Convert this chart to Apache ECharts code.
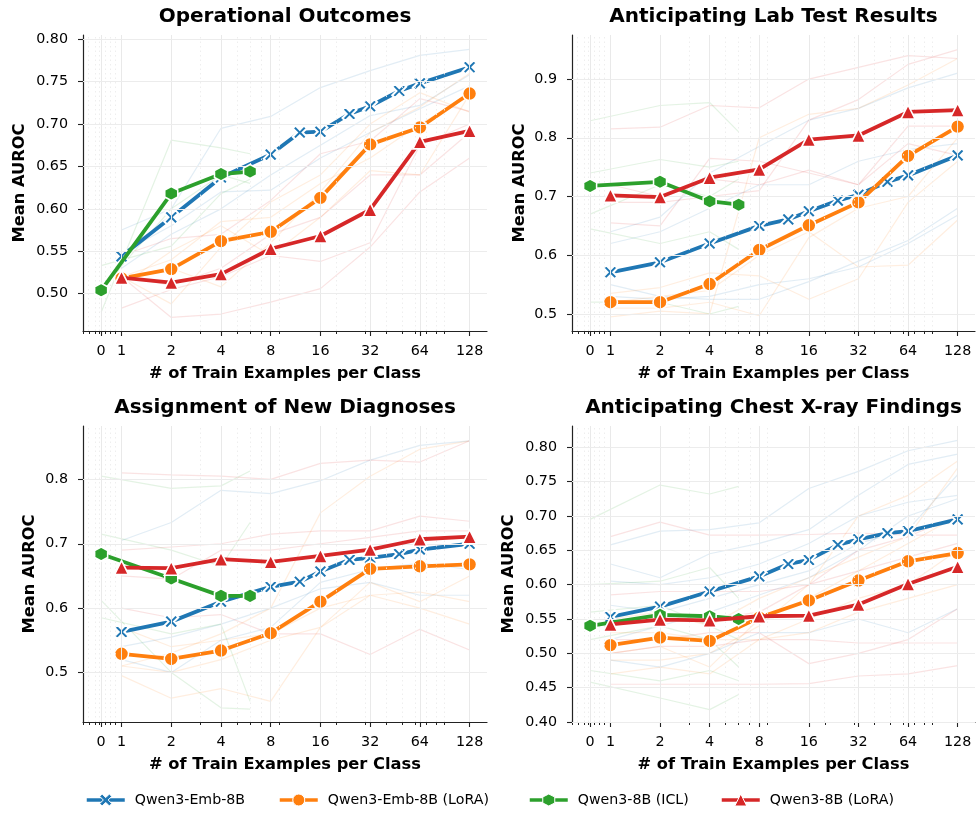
<!DOCTYPE html>
<html>
<head>
<meta charset="utf-8">
<script src="https://cdn.jsdelivr.net/npm/echarts@6/dist/echarts.min.js"></script>
<style>
html, body { margin: 0; padding: 0; background: #fff; }
#chart { width: 978px; height: 816px; }
</style>
</head>
<body>
<div id="chart"></div>
<script>
// ---- shot counts (x) ----
const tickShots = [0, 1, 2, 4, 8, 16, 32, 64, 128];
const minorShots = [-0.88, -0.6, -0.3, -0.1, 0.2, 0.45, 0.7, 3, 5, 6, 7, 9, 20, 30, 40, 50, 60, 70, 80, 90];
const embShots = [1, 2, 4, 8, 12, 16, 24, 32, 48, 64, 128];
const loraShots = [1, 2, 4, 8, 16, 32, 64, 128];
const iclShots = [0, 2, 4, 6];

const panelTitles = ['Operational Outcomes', 'Anticipating Lab Test Results',
  'Assignment of New Diagnoses', 'Anticipating Chest X-ray Findings'];
const seriesNames = ['Qwen3-Emb-8B', 'Qwen3-Emb-8B (LoRA)', 'Qwen3-8B (ICL)', 'Qwen3-8B (LoRA)'];

// ---- y tick labels per panel ----
const opsTicks = [0.50, 0.55, 0.60, 0.65, 0.70, 0.75, 0.80];
const labTicks = [0.5, 0.6, 0.7, 0.8, 0.9];
const dxTicks = [0.5, 0.6, 0.7, 0.8];
const cxrTicks = [0.40, 0.45, 0.50, 0.55, 0.60, 0.65, 0.70, 0.75, 0.80];

// ---- mean AUROC: Operational Outcomes ----
const opsEmb = [0.544, 0.590, 0.637, 0.664, 0.690, 0.691, 0.712, 0.721, 0.739, 0.748, 0.767];
const opsEmbLora = [0.518, 0.529, 0.562, 0.573, 0.613, 0.676, 0.696, 0.736];
const opsIcl = [0.504, 0.618, 0.641, 0.644];
const opsLora = [0.519, 0.513, 0.523, 0.553, 0.568, 0.599, 0.679, 0.692];

// ---- mean AUROC: Lab Test Results ----
const labEmb = [0.571, 0.588, 0.620, 0.650, 0.661, 0.675, 0.693, 0.703, 0.725, 0.736, 0.770];
const labEmbLora = [0.520, 0.520, 0.551, 0.609, 0.651, 0.690, 0.769, 0.819];
const labIcl = [0.718, 0.725, 0.692, 0.686];
const labLora = [0.702, 0.699, 0.732, 0.746, 0.797, 0.804, 0.844, 0.847];

// ---- mean AUROC: New Diagnoses ----
const dxEmb = [0.563, 0.579, 0.610, 0.633, 0.641, 0.657, 0.675, 0.678, 0.684, 0.691, 0.700];
const dxEmbLora = [0.529, 0.521, 0.534, 0.561, 0.610, 0.661, 0.665, 0.668];
const dxIcl = [0.684, 0.646, 0.619, 0.619];
const dxLora = [0.663, 0.662, 0.676, 0.672, 0.681, 0.691, 0.707, 0.711];

// ---- mean AUROC: Chest X-ray Findings ----
const cxrEmb = [0.553, 0.568, 0.590, 0.612, 0.630, 0.636, 0.658, 0.666, 0.675, 0.678, 0.695];
const cxrEmbLora = [0.512, 0.523, 0.518, 0.552, 0.577, 0.606, 0.634, 0.646];
const cxrIcl = [0.540, 0.556, 0.554, 0.550];
const cxrLora = [0.542, 0.549, 0.548, 0.554, 0.555, 0.571, 0.601, 0.626];

// ---- individual tasks (faint), Emb / LoRA at loraShots, ICL at iclShots ----
const opsTaskEmb = [
  [0.575, 0.600, 0.695, 0.709, 0.743, 0.763, 0.781, 0.788],
  [0.548, 0.580, 0.620, 0.622, 0.660, 0.690, 0.718, 0.745],
  [0.530, 0.570, 0.600, 0.640, 0.675, 0.710, 0.722, 0.758]
];
const opsTaskEmbLora = [
  [0.520, 0.488, 0.555, 0.608, 0.640, 0.700, 0.737, 0.714],
  [0.510, 0.550, 0.580, 0.545, 0.590, 0.645, 0.640, 0.735],
  [0.520, 0.530, 0.508, 0.560, 0.620, 0.690, 0.720, 0.760],
  [0.520, 0.540, 0.585, 0.590, 0.630, 0.660, 0.700, 0.733]
];
const opsTaskIcl = [
  [0.478, 0.681, 0.672, 0.665],
  [0.533, 0.556, 0.618, 0.635],
  [0.505, 0.600, 0.640, 0.630]
];
const opsTaskLora = [
  [0.520, 0.472, 0.476, 0.490, 0.506, 0.555, 0.620, 0.660],
  [0.483, 0.505, 0.520, 0.545, 0.538, 0.560, 0.675, 0.700],
  [0.545, 0.565, 0.570, 0.610, 0.665, 0.680, 0.730, 0.715],
  [0.520, 0.510, 0.530, 0.570, 0.590, 0.640, 0.640, 0.690]
];

const labTaskEmb = [
  [0.640, 0.665, 0.740, 0.785, 0.830, 0.850, 0.885, 0.910],
  [0.620, 0.640, 0.680, 0.720, 0.720, 0.760, 0.780, 0.790],
  [0.550, 0.530, 0.525, 0.525, 0.555, 0.590, 0.625, 0.680],
  [0.530, 0.525, 0.530, 0.550, 0.560, 0.580, 0.620, 0.668]
];
const labTaskEmbLora = [
  [0.495, 0.505, 0.500, 0.800, 0.840, 0.850, 0.890, 0.935],
  [0.535, 0.545, 0.570, 0.565, 0.525, 0.560, 0.690, 0.760],
  [0.510, 0.510, 0.520, 0.497, 0.630, 0.680, 0.700, 0.800],
  [0.520, 0.530, 0.540, 0.600, 0.640, 0.580, 0.583, 0.660]
];
const labTaskIcl = [
  [0.829, 0.855, 0.860, 0.810],
  [0.740, 0.763, 0.750, 0.760],
  [0.670, 0.720, 0.700, 0.730],
  [0.645, 0.620, 0.640, 0.610],
  [0.520, 0.520, 0.500, 0.513]
];
const labTaskLora = [
  [0.815, 0.818, 0.855, 0.851, 0.900, 0.920, 0.940, 0.935],
  [0.655, 0.650, 0.765, 0.760, 0.740, 0.720, 0.790, 0.770],
  [0.690, 0.690, 0.700, 0.710, 0.830, 0.865, 0.925, 0.950],
  [0.720, 0.700, 0.730, 0.720, 0.745, 0.720, 0.820, 0.820]
];

const dxTaskEmb = [
  [0.705, 0.733, 0.783, 0.778, 0.798, 0.830, 0.853, 0.860],
  [0.540, 0.555, 0.575, 0.600, 0.630, 0.640, 0.620, 0.620],
  [0.520, 0.500, 0.550, 0.570, 0.640, 0.660, 0.670, 0.660]
];
const dxTaskEmbLora = [
  [0.510, 0.530, 0.560, 0.600, 0.748, 0.805, 0.847, 0.860],
  [0.495, 0.460, 0.475, 0.455, 0.570, 0.620, 0.600, 0.575],
  [0.510, 0.500, 0.520, 0.550, 0.570, 0.640, 0.610, 0.650],
  [0.570, 0.540, 0.550, 0.560, 0.600, 0.620, 0.625, 0.610]
];
const dxTaskIcl = [
  [0.805, 0.786, 0.790, 0.813],
  [0.715, 0.690, 0.665, 0.733],
  [0.612, 0.500, 0.445, 0.443],
  [0.585, 0.560, 0.575, 0.455]
];
const dxTaskLora = [
  [0.810, 0.807, 0.805, 0.800, 0.825, 0.830, 0.827, 0.860],
  [0.690, 0.695, 0.700, 0.715, 0.720, 0.720, 0.743, 0.735],
  [0.600, 0.585, 0.590, 0.560, 0.560, 0.528, 0.567, 0.535],
  [0.650, 0.645, 0.690, 0.690, 0.700, 0.710, 0.720, 0.720]
];

const cxrTaskEmb = [
  [0.658, 0.678, 0.680, 0.690, 0.740, 0.765, 0.795, 0.810],
  [0.630, 0.610, 0.645, 0.660, 0.680, 0.730, 0.775, 0.790],
  [0.605, 0.600, 0.610, 0.630, 0.660, 0.700, 0.720, 0.730],
  [0.520, 0.540, 0.560, 0.585, 0.610, 0.650, 0.700, 0.725],
  [0.490, 0.480, 0.500, 0.530, 0.530, 0.550, 0.530, 0.565],
  [0.570, 0.560, 0.580, 0.600, 0.620, 0.660, 0.680, 0.760]
];
const cxrTaskEmbLora = [
  [0.490, 0.490, 0.500, 0.540, 0.600, 0.700, 0.730, 0.780],
  [0.500, 0.510, 0.480, 0.550, 0.580, 0.620, 0.660, 0.700],
  [0.530, 0.530, 0.520, 0.520, 0.530, 0.560, 0.580, 0.600],
  [0.470, 0.480, 0.470, 0.520, 0.550, 0.580, 0.600, 0.650],
  [0.550, 0.560, 0.540, 0.580, 0.610, 0.640, 0.670, 0.770]
];
const cxrTaskIcl = [
  [0.695, 0.745, 0.732, 0.743],
  [0.600, 0.605, 0.625, 0.580],
  [0.560, 0.570, 0.540, 0.520],
  [0.475, 0.460, 0.475, 0.460],
  [0.458, 0.435, 0.418, 0.440],
  [0.520, 0.540, 0.520, 0.480]
];
const cxrTaskLora = [
  [0.670, 0.691, 0.672, 0.672, 0.673, 0.675, 0.672, 0.672],
  [0.455, 0.455, 0.455, 0.455, 0.456, 0.467, 0.470, 0.482],
  [0.585, 0.590, 0.590, 0.590, 0.600, 0.620, 0.640, 0.660],
  [0.520, 0.520, 0.530, 0.530, 0.485, 0.500, 0.520, 0.565],
  [0.550, 0.550, 0.550, 0.560, 0.600, 0.650, 0.670, 0.700],
  [0.500, 0.510, 0.510, 0.520, 0.520, 0.515, 0.515, 0.515]
];

// ---- panel assembly ----
const panels = [
  { title: panelTitles[0], yMin: 0.456, yMax: 0.805, ticks: opsTicks, digits: 2, nameGap: 55,
    main: [opsEmb, opsEmbLora, opsIcl, opsLora], tasks: [opsTaskEmb, opsTaskEmbLora, opsTaskIcl, opsTaskLora] },
  { title: panelTitles[1], yMin: 0.471, yMax: 0.975, ticks: labTicks, digits: 1, nameGap: 44,
    main: [labEmb, labEmbLora, labIcl, labLora], tasks: [labTaskEmb, labTaskEmbLora, labTaskIcl, labTaskLora] },
  { title: panelTitles[2], yMin: 0.423, yMax: 0.883, ticks: dxTicks, digits: 1, nameGap: 45,
    main: [dxEmb, dxEmbLora, dxIcl, dxLora], tasks: [dxTaskEmb, dxTaskEmbLora, dxTaskIcl, dxTaskLora] },
  { title: panelTitles[3], yMin: 0.400, yMax: 0.831, ticks: cxrTicks, digits: 2, nameGap: 55,
    main: [cxrEmb, cxrEmbLora, cxrIcl, cxrLora], tasks: [cxrTaskEmb, cxrTaskEmbLora, cxrTaskIcl, cxrTaskLora] }
];

const gridBoxes = [
  { left: 83, top: 35, width: 404, height: 296 },
  { left: 572, top: 35, width: 403, height: 296 },
  { left: 83, top: 426, width: 404, height: 296 },
  { left: 572, top: 426, width: 403, height: 296 }
];
const legendLefts = [85, 278, 528, 720];

const COLORS = ['#1f77b4', '#ff7f0e', '#2ca02c', '#d62728'];
const X_PATH = 'path://M0,2L2,0L5,3L8,0L10,2L7,5L10,8L8,10L5,7L2,10L0,8L3,5Z';
const HEX_PATH = 'path://M5,0L9.33,2.5L9.33,7.5L5,10L0.67,7.5L0.67,2.5Z';
const SYMBOLS = [X_PATH, 'circle', HEX_PATH, 'triangle'];
const SYMBOL_SIZES = [14, 14, [13, 14], 14];
const FONT = 'DejaVu Sans';

// symmetric-log style position: linear between 0 and 1, log2 above
const LIN = 0.41;
function sx(n) { return n >= 1 ? Math.log2(n) : -LIN * (1 - n); }
const X_MIN = -0.775, X_MAX = 7.35;

function shotLabel(v) {
  for (const s of tickShots) if (Math.abs(sx(s) - v) < 1e-6) return String(s);
  return '';
}

const grids = [], xAxes = [], yAxes = [], series = [], titles = [];

panels.forEach((p, i) => {
  const g = gridBoxes[i];
  grids.push({ left: g.left, top: g.top, width: g.width, height: g.height, containLabel: false });
  titles.push({
    text: p.title, left: g.left + g.width / 2, top: g.top - 28, textAlign: 'center', padding: 0,
    textStyle: { fontFamily: FONT, fontSize: 20, fontWeight: 'bold', color: '#000' }
  });

  // main x axis
  xAxes.push({
    type: 'value', gridIndex: i, min: X_MIN, max: X_MAX, position: 'bottom',
    name: '# of Train Examples per Class', nameLocation: 'middle', nameGap: 35,
    nameTextStyle: { fontFamily: FONT, fontSize: 16.3, fontWeight: 'bold', color: '#000' },
    axisLine: { show: true, onZero: false, lineStyle: { color: '#222', width: 1.2 } },
    axisTick: { show: true, length: 5, lineStyle: { color: '#222', width: 1.1 }, customValues: tickShots.map(sx) },
    axisLabel: { show: true, margin: 13, fontFamily: FONT, fontSize: 14.3, color: '#000',
      customValues: tickShots.map(sx), formatter: shotLabel },
    splitLine: { show: false }
  });
  // minor tick axis
  xAxes.push({
    type: 'value', gridIndex: i, min: X_MIN, max: X_MAX, position: 'bottom',
    axisLine: { show: false, onZero: false },
    axisTick: { show: true, length: 3, lineStyle: { color: '#222', width: 1 }, customValues: minorShots.map(sx) },
    axisLabel: { show: false },
    splitLine: { show: false }
  });
  const xMain = i * 2;

  yAxes.push({
    type: 'value', gridIndex: i, min: p.yMin, max: p.yMax, position: 'left',
    name: 'Mean AUROC', nameLocation: 'middle', nameGap: p.nameGap, nameRotate: 90,
    nameTextStyle: { fontFamily: FONT, fontSize: 16.3, fontWeight: 'bold', color: '#000' },
    axisLine: { show: true, onZero: false, lineStyle: { color: '#222', width: 1.2 } },
    axisTick: { show: true, length: 5, lineStyle: { color: '#222', width: 1.1 }, customValues: p.ticks },
    axisLabel: { show: true, margin: 15, fontFamily: FONT, fontSize: 14.3, color: '#000',
      customValues: p.ticks, formatter: v => v.toFixed(p.digits) },
    splitLine: { show: false }
  });

  // grid lines (major solid, minor dotted)
  const gridLines = [];
  tickShots.forEach(s => gridLines.push({ xAxis: sx(s), lineStyle: { color: '#e9e9e9', width: 1, type: 'solid' } }));
  minorShots.filter(s => s > -0.8).forEach(s => gridLines.push({ xAxis: sx(s), lineStyle: { color: '#ececec', width: 0.9, type: [1.5, 3] } }));
  p.ticks.forEach(t => gridLines.push({ yAxis: t, lineStyle: { color: '#ececec', width: 1, type: 'solid' } }));
  series.push({
    type: 'line', xAxisIndex: xMain, yAxisIndex: i, z: 1, silent: true,
    data: [[sx(1), p.ticks[0]]], showSymbol: false, symbol: 'none', lineStyle: { width: 0, opacity: 0 },
    markLine: { silent: true, symbol: ['none', 'none'], label: { show: false }, animation: false, data: gridLines }
  });

  // faint per-task lines
  p.tasks.forEach((group, m) => {
    const shots = m === 2 ? iclShots : loraShots;
    group.forEach(vals => {
      series.push({
        type: 'line', xAxisIndex: xMain, yAxisIndex: i, z: 2, silent: true,
        data: shots.map((s, k) => [sx(s), vals[k]]),
        symbol: 'none', showSymbol: false,
        lineStyle: { color: COLORS[m], width: 1.2, opacity: 0.13 }
      });
    });
  });

  // mean lines
  p.main.forEach((vals, m) => {
    const shots = m === 0 ? embShots : (m === 2 ? iclShots : loraShots);
    series.push({
      name: seriesNames[m], type: 'line', xAxisIndex: xMain, yAxisIndex: i, z: 3 + m,
      data: shots.map((s, k) => [sx(s), vals[k]]),
      symbol: SYMBOLS[m], symbolSize: SYMBOL_SIZES[m], showSymbol: true,
      lineStyle: { color: COLORS[m], width: 3.8 },
      itemStyle: { color: COLORS[m], borderColor: '#fff', borderWidth: m === 0 ? 2 : 1.6 },
      emphasis: { disabled: true }
    });
  });
});

// one legend block per method, laid out along the bottom
const legends = seriesNames.map((name, k) => ({
  data: [name], left: legendLefts[k], top: 793, padding: 0, itemWidth: 38, itemHeight: 15,
  lineStyle: { width: 3.5 },
  itemStyle: { borderWidth: 1 },
  textStyle: { fontFamily: FONT, fontSize: 14.2, color: '#000', padding: [0, 0, 0, 5] }
}));

const chart = echarts.init(document.getElementById('chart'), null, { renderer: 'canvas' });
chart.setOption({
  animation: false,
  backgroundColor: '#fff',
  title: titles,
  grid: grids,
  xAxis: xAxes,
  yAxis: yAxes,
  legend: legends,
  series: series
});
</script>
</body>
</html>
